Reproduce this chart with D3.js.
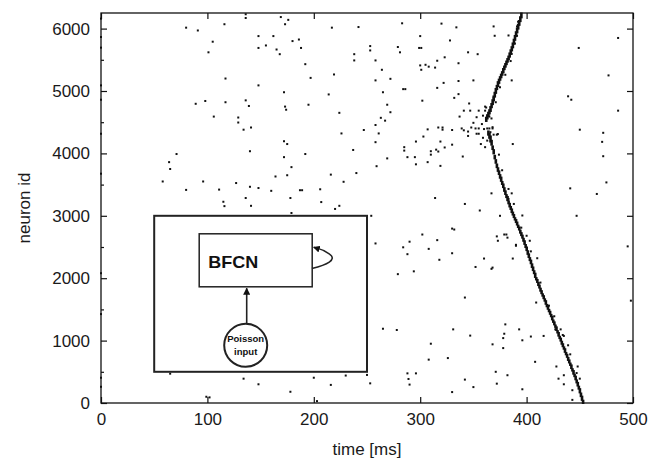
<!DOCTYPE html>
<html>
<head>
<meta charset="utf-8">
<script src="https://cdn.jsdelivr.net/npm/d3@7"></script>
<style>
body { margin: 0; background: #fff; }
svg { display: block; font-family: "Liberation Sans", Arial, sans-serif; }
</style>
</head>
<body>
<svg class="canvas" width="664" height="460"></svg>
<script>
var xTicks = [0, 100, 200, 300, 400, 500];
var yTicks = [0, 1000, 2000, 3000, 4000, 5000, 6000];
var yMinorTicks = [500, 1500, 2500, 3500, 4500, 5500];

// scattered spikes: [time ms, neuron id]
var spikes = [
	[80,6015],[91,5970],[116,6070],[136,6230],[136,6170],[169,6185],[176,6140],[173,6070],[217,6015],
	[105,5790],[101,5620],[148,5880],[162,5880],[148,5690],[155,5730],[165,5665],[168,5590],[180,5800],
	[186,5825],[188,5690],[192,5430],[197,5210],[219,5265],[214,4945],[117,5200],[148,5090],[172,4980],
	[89,4795],[98,4840],[117,4820],[136,4850],[139,4760],[173,4750],[174,4700],[195,4780],[106,4590],
	[129,4575],[129,4495],[134,4380],[141,4415],
	[172,4195],[175,4150],[71,3990],[64,3860],[65,3750],[140,4035],[172,3940],[192,3990],[179,3780],
	[164,3630],[175,3650],[216,3660],[58,3550],[96,3550],[127,3525],[80,3415],[111,3420],[140,3465],
	[148,3445],[160,3400],[187,3410],[189,3410],[206,3425],[136,3285],[115,3225],[116,3155],[141,3160],
	[178,3285],[207,3220],[220,3110],[179,3045],[224,3160],
	[254,3000],[258,2557],[342,3190],[356,3085],[302,2700],[290,2585],[284,2495],[288,2385],[308,2470],
	[316,2610],[318,2295],[330,2795],[332,2780],[330,2400],[279,2065],[294,2110],[342,1690],[352,2180],
	[367,2150],[360,2315],[372,2670],[373,2600],[375,3000],[379,2700],[387,2315],[390,2535],[396,3005],
	[265,1190],[278,1170],[310,950],[308,695],[326,720],[331,1180],[347,1080],[288,475],[296,475],
	[289,385],[290,295],[330,175],[342,375],[350,255],[371,500],[372,310],[382,445],[378,880],[379,1110],
	[393,1180],[396,1005],[396,220],
	[65,470],[134,390],[148,300],[178,180],[200,405],[216,290],[230,440],[250,450],[253,315],[99,100],
	[102,90],[203,30],
	[242,6025],[283,6085],[320,6080],[334,6020],[300,5880],[253,5720],[253,5650],[279,5705],[281,5620],
	[299,5690],[301,5690],[328,5810],[238,5590],[238,5490],[258,5490],[264,5340],[258,5170],[272,5195],
	[300,5410],[305,5420],[308,5390],[301,5340],[314,5375],[316,5485],[323,5540],[336,5445],[345,5620],
	[354,5590],[370,5885],[383,5890],[284,5030],[286,5030],[265,4980],[316,5050],[302,4845],[322,5130],
	[336,5160],[350,5170],[332,4890],[336,4950],[224,4650],[226,4320],[247,4375],[258,4455],[261,4320],
	[263,4570],[267,4525],[269,4780],[272,4660],[258,4180],[237,4055],[269,3920],[259,3795],[240,3685],
	[228,3545],[285,4100],[285,4045],[288,3940],[295,3940],[296,3825],[296,4190],[303,4270],[307,4385],
	[307,3860],[310,4035],[310,3980],[315,4060],[317,4415],[321,4415],[321,4380],[317,4030],[319,4190],
	[323,4095],[319,3800],[330,4140],[330,4375],[340,3950],[367,3360],[314,3285],[387,4150],[391,5885],
	[386,5170],
	[346,4800],[341,4685],[337,4590],[347,4685],[350,4490],[353,4580],[355,4685],[352,4400],[355,4400],
	[339,4400],[341,4370],[345,4350],[345,4280],[348,4415],[353,4315],[355,4315],[358,4470],[359,4605],
	[361,4750],[362,4735],[361,4685],[359,4250],[360,4390],[363,4400],[365,4400],[368,4400],[366,4340],
	[369,4300],[365,4590],[372,4300],[357,4150],[361,4100],[363,4205],[369,4890],[373,4310],[368,4420],
	[369,6035],[391,6035],[386,5595],[449,5690],[486,5850],[477,5250],[486,4685],[439,4915],[442,4860],
	[450,4380],[472,4330],[471,4185],[472,3955],[475,3535],[466,3350],[441,3440],[447,3000],[495,2510],
	[498,1640],[386,3360],[383,3430],[388,3190],[381,2700],[382,2650],[390,2520],[400,2680],[403,2600],
	[410,2320],[368,2170],[409,1610],[380,1260],[378,1040],[404,1065],[416,1075],[427,1180],[432,1180],
	[435,1075],[439,925],[408,660],[428,585],[430,390],[435,445],[448,585],[450,390],[443,205],[368,940],
	[435,300],[443,50],
	[392,6110],[389,5760],[385,5480],[380,5260],[375,5060],[371,4820],[367,4560],[374,3980],[377,3730],
	[383,3270],[395,2810],[404,2430],[413,1930],[421,1560],[426,1390],[434,1090],[441,780],[447,480],
	[0,6160],[0,5865],[0,5695],[0,5090],[0,4860],[0,4315],[0,3675],[0,2080],[0,1425],[0,405],[0,260]
];

// wave fronts: [time ms, lowest id, highest id] of each short burst
var waveDown = [
	[364,4300,4360],[365,4250,4320],[366,4190,4280],[367,4140,4210],[368,4070,4120],[369,4000,4060],
	[370,3920,3970],[371,3850,3900],[372,3780,3830],[373,3720,3770],[374,3670,3720],[375,3610,3660],
	[376,3560,3620],[377,3510,3550],[378,3460,3510],[379,3400,3450],[380,3350,3400],[381,3300,3340],
	[382,3250,3310],[383,3200,3240],[384,3150,3200],[385,3110,3150],[386,3060,3110],[387,3020,3060],
	[388,2980,3020],[389,2940,2970],[390,2900,2940],[391,2860,2900],[392,2820,2850],[393,2780,2820],
	[394,2730,2770],[395,2690,2730],[396,2650,2690],[397,2600,2640],[398,2550,2600],[399,2500,2540],
	[400,2450,2500],[401,2390,2440],[402,2340,2390],[403,2290,2330],[404,2240,2290],[405,2180,2230],
	[406,2130,2180],[407,2080,2120],[408,2020,2080],[409,1980,2010],[410,1940,1980],[411,1890,1930],
	[412,1850,1890],[413,1800,1840],[414,1760,1800],[415,1720,1750],[416,1680,1720],[417,1640,1670],
	[418,1590,1640],[419,1550,1580],[420,1510,1550],[421,1470,1500],[422,1430,1470],[423,1390,1420],
	[424,1340,1390],[425,1300,1330],[426,1260,1300],[427,1220,1250],[428,1170,1220],[429,1130,1160],
	[430,1080,1130],[431,1040,1070],[432,1000,1040],[433,950,990],[434,910,950],[435,870,900],
	[436,820,870],[437,780,810],[438,740,780],[439,690,730],[440,650,690],[441,610,640],[442,560,610],
	[443,520,550],[444,470,520],[445,430,460],[446,380,430],[447,330,370],[448,280,330],[449,230,270],
	[450,170,230],[451,110,160],[452,50,110],[453,0,45]
];
var waveUp = [
	[362,4520,4580],[363,4560,4620],[364,4600,4660],[365,4640,4700],[366,4680,4750],[367,4740,4800],
	[368,4790,4860],[369,4850,4920],[370,4910,4980],[371,4970,5040],[372,5030,5090],[373,5080,5150],
	[374,5130,5190],[375,5180,5230],[376,5220,5270],[377,5260,5310],[378,5300,5360],[379,5350,5400],
	[380,5390,5440],[381,5430,5480],[382,5470,5520],[383,5510,5560],[384,5550,5610],[385,5600,5660],
	[386,5650,5710],[387,5700,5770],[388,5760,5830],[389,5820,5890],[390,5880,5950],[391,5940,6010],
	[392,6000,6070],[393,6060,6130],[394,6120,6190],[395,6180,6250]
];

var svg = d3.select('.canvas');
var margin = {top: 13, right: 31, bottom: 57, left: 101};
var width = 664 - margin.left - margin.right;
var height = 460 - margin.top - margin.bottom;

var x = d3.scaleLinear().domain([0, 500]).range([0, width]);
var y = d3.scaleLinear().domain([0, 6250]).range([height, 0]);

var plot = svg.append('g')
	.attr('transform', "translate(" + margin.left + "," + margin.top + ")");

// SPIKES
plot.append('g').selectAll('rect')
	.data(spikes)
	.enter().append('rect')
	.attr('x', function(d){ return x(d[0]) - 1; })
	.attr('y', function(d){ return y(d[1]) - 1; })
	.attr('width', 2)
	.attr('height', 2)
	.attr('fill', '#111');

// WAVE
plot.append('g').selectAll('rect')
	.data(waveDown.concat(waveUp))
	.enter().append('rect')
	.attr('x', function(d){ return x(d[0]) - 1.2; })
	.attr('y', function(d){ return y(d[2]) - 0.5; })
	.attr('width', 2.6)
	.attr('height', function(d){ return y(d[1]) - y(d[2]) + 1.5; })
	.attr('fill', '#111');

// AXES
function styleAxis(g) {
	g.select('.domain').remove();
	g.selectAll('line').attr('stroke', '#111').attr('stroke-width', 1.2);
	g.selectAll('text').attr('fill', '#1a1a1a').style('font-size', '17px');
}

plot.append('g')
	.attr('transform', "translate(0," + height + ")")
	.call(d3.axisBottom(x).tickValues(xTicks).tickSizeInner(-6).tickSizeOuter(0).tickPadding(10).tickFormat(d3.format('d')))
	.call(styleAxis);

plot.append('g')
	.call(d3.axisLeft(y).tickValues(yTicks).tickSizeInner(-6).tickSizeOuter(0).tickPadding(11).tickFormat(d3.format('d')))
	.call(styleAxis);

plot.append('g')
	.call(d3.axisLeft(y).tickValues(yMinorTicks).tickSizeInner(-3).tickSizeOuter(0).tickFormat(''))
	.call(styleAxis);

plot.append('g')
	.call(d3.axisTop(x).tickValues(xTicks).tickSizeInner(-6).tickSizeOuter(0).tickFormat(''))
	.call(styleAxis);

plot.append('g')
	.attr('transform', "translate(" + width + ",0)")
	.call(d3.axisRight(y).tickValues(yTicks).tickSizeInner(-6).tickSizeOuter(0).tickFormat(''))
	.call(styleAxis);

plot.append('rect')
	.attr('width', width)
	.attr('height', height)
	.attr('fill', 'none')
	.attr('stroke', '#111')
	.attr('stroke-width', 1.3);

// AXIS TITLES
svg.append('text')
	.attr('x', margin.left + width / 2)
	.attr('y', 455)
	.attr('text-anchor', 'middle')
	.style('font-size', '17px')
	.attr('fill', '#1a1a1a')
	.text('time [ms]');

svg.append('text')
	.attr('transform', "translate(30," + (margin.top + height / 2) + ") rotate(-90)")
	.attr('text-anchor', 'middle')
	.style('font-size', '17px')
	.attr('fill', '#1a1a1a')
	.text('neuron id');

// INSET DIAGRAM
var defs = svg.append('defs');
defs.append('marker')
	.attr('id', 'arrow')
	.attr('viewBox', '0 0 10 10')
	.attr('refX', 9)
	.attr('refY', 5)
	.attr('markerWidth', 4.5)
	.attr('markerHeight', 4.5)
	.attr('orient', 'auto')
	.append('path')
	.attr('d', 'M0,0 L10,5 L0,10 Z')
	.attr('fill', '#111');

var bx = x(50), by = y(3000);
var inset = plot.append('g')
	.attr('transform', "translate(" + bx + "," + by + ")");

inset.append('rect')
	.attr('width', x(250) - x(50))
	.attr('height', y(500) - y(3000))
	.attr('fill', '#fff')
	.attr('stroke', '#222')
	.attr('stroke-width', 2);

inset.append('rect')
	.attr('x', 45)
	.attr('y', 18)
	.attr('width', 113)
	.attr('height', 53)
	.attr('fill', '#fff')
	.attr('stroke', '#222')
	.attr('stroke-width', 1.5);

inset.append('text')
	.attr('x', 54)
	.attr('y', 52)
	.attr('textLength', 50)
	.attr('lengthAdjust', 'spacingAndGlyphs')
	.style('font-size', '17px')
	.style('font-weight', 'bold')
	.attr('fill', '#111')
	.text('BFCN');

inset.append('path')
	.attr('d', 'M157.7,52.7 C172,49 184,44 175,38 S164,33 159.5,31.5')
	.attr('fill', 'none')
	.attr('stroke', '#222')
	.attr('stroke-width', 1.5)
	.attr('marker-end', 'url(#arrow)');

inset.append('line')
	.attr('x1', 92.5).attr('y1', 107.5)
	.attr('x2', 92.5).attr('y2', 72.5)
	.attr('stroke', '#222')
	.attr('stroke-width', 1.6)
	.attr('marker-end', 'url(#arrow)');

inset.append('circle')
	.attr('cx', 91.5)
	.attr('cy', 129.5)
	.attr('r', 21.5)
	.attr('fill', '#fff')
	.attr('stroke', '#222')
	.attr('stroke-width', 2);

inset.append('text')
	.attr('x', 91.5)
	.attr('y', 126)
	.attr('text-anchor', 'middle')
	.style('font-size', '9.5px')
	.style('font-weight', 'bold')
	.attr('fill', '#111')
	.text('Poisson');

inset.append('text')
	.attr('x', 91.5)
	.attr('y', 139)
	.attr('text-anchor', 'middle')
	.style('font-size', '9.5px')
	.style('font-weight', 'bold')
	.attr('fill', '#111')
	.text('input');
</script>
</body>
</html>
